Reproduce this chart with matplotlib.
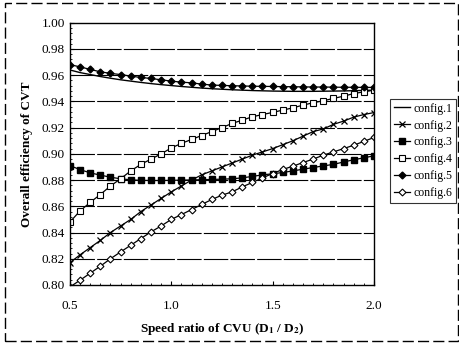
import matplotlib
matplotlib.use("Agg")
import matplotlib.pyplot as plt
from matplotlib.patches import Rectangle
from matplotlib.ticker import MultipleLocator

plt.rcParams["font.family"] = ["Liberation Serif", "DejaVu Serif"]
plt.rcParams["mathtext.fontset"] = "stix"

# speed ratio D1/D2, step 0.05
ratio = [0.5 + 0.05 * i for i in range(31)]

config1 = [0.964, 0.962, 0.9605, 0.959, 0.9577, 0.9565, 0.9555, 0.9545, 0.9536, 0.9528,
           0.9521, 0.9514, 0.9508, 0.9502, 0.9497, 0.9493, 0.9489, 0.9486, 0.9483, 0.9481,
           0.9479, 0.9478, 0.9477, 0.9477, 0.9477, 0.9478, 0.9479, 0.948, 0.9482, 0.9484,
           0.9486]
config2 = [0.817, 0.823, 0.8285, 0.834, 0.840, 0.845, 0.850, 0.856, 0.861, 0.866,
           0.871, 0.8755, 0.880, 0.884, 0.887, 0.890, 0.893, 0.896, 0.899, 0.9015,
           0.904, 0.907, 0.910, 0.9135, 0.917, 0.919, 0.9225, 0.925, 0.928, 0.930,
           0.9315]
config3 = [0.891, 0.888, 0.8855, 0.8838, 0.8822, 0.881, 0.8802, 0.8798, 0.8797, 0.8797,
           0.8798, 0.880, 0.8801, 0.8803, 0.8805, 0.8807, 0.881, 0.8817, 0.8828, 0.884,
           0.8848, 0.8858, 0.887, 0.8883, 0.8896, 0.8908, 0.892, 0.8938, 0.8955, 0.897,
           0.8985]
config4 = [0.848, 0.8565, 0.863, 0.869, 0.8755, 0.881, 0.887, 0.892, 0.896, 0.900,
           0.9045, 0.908, 0.911, 0.914, 0.917, 0.920, 0.9232, 0.9257, 0.9283, 0.930,
           0.9316, 0.9334, 0.9351, 0.9372, 0.939, 0.9405, 0.9423, 0.944, 0.946, 0.9473,
           0.9486]
config5 = [0.968, 0.9664, 0.9644, 0.9626, 0.9614, 0.9605, 0.9593, 0.9583, 0.9575, 0.9565,
           0.9555, 0.9547, 0.9542, 0.9532, 0.9525, 0.9522, 0.952, 0.9518, 0.9516, 0.9515,
           0.9514, 0.9513, 0.9512, 0.9511, 0.951, 0.951, 0.9509, 0.9508, 0.9508, 0.9507,
           0.9507]
config6 = [0.7985, 0.8036, 0.809, 0.8143, 0.820, 0.8252, 0.8303, 0.8354, 0.8405, 0.845,
           0.850, 0.8537, 0.8575, 0.8614, 0.8652, 0.8685, 0.871, 0.8748, 0.8782, 0.8817,
           0.885, 0.8881, 0.8906, 0.8934, 0.896, 0.899, 0.9015, 0.904, 0.9066, 0.9095,
           0.9125]

fig = plt.figure(figsize=(4.6, 3.45), dpi=100)
ax = fig.add_axes([0.152, 0.174, 0.661, 0.76])

# horizontal grid
for g in [0.82, 0.84, 0.86, 0.88, 0.90, 0.92, 0.94, 0.96, 0.98]:
    ax.axhline(g, color="black", lw=0.8, dashes=(22, 2), zorder=1)

ax.plot(ratio, config1, color="black", lw=1.0, label="config.1")
ax.plot(ratio, config2, color="black", lw=0.9, marker="x", ms=5, mew=0.9, label="config.2")
ax.plot(ratio, config3, color="black", lw=0.9, marker="s", ms=5, label="config.3")
ax.plot(ratio, config4, color="black", lw=0.9, marker="s", ms=5, mfc="white", mew=0.8, label="config.4")
ax.plot(ratio, config5, color="black", lw=0.9, marker="D", ms=3.5, label="config.5")
ax.plot(ratio, config6, color="black", lw=0.9, marker="D", ms=3.5, mfc="white", mew=0.8, label="config.6")

ax.set_xlim(0.5, 2.0)
ax.set_ylim(0.80, 1.00)
ax.set_xticks([0.5, 1.0, 1.5, 2.0])
ax.set_xticklabels(["0.5", "1.0", "1.5", "2.0"])
ax.set_yticks([0.80 + 0.02 * i for i in range(11)])
ax.set_yticklabels(["%.2f" % (0.80 + 0.02 * i) for i in range(11)])
ax.yaxis.set_minor_locator(MultipleLocator(0.004))
ax.xaxis.set_minor_locator(MultipleLocator(0.05))
ax.tick_params(axis="both", which="major", direction="in", length=3, labelsize=9.5)
ax.tick_params(axis="x", which="major", pad=11)
ax.tick_params(axis="both", which="minor", direction="in", length=1.5)
for s in ax.spines.values():
    s.set_linewidth(1.0)

ax.set_xlabel(r"Speed ratio of CVU (D$_\mathbf{1}$ / D$_\mathbf{2}$)", fontsize=9.5,
              fontweight="bold", labelpad=6)
ax.set_ylabel("Overall efficiency of CVT", fontsize=9.5, fontweight="bold", labelpad=6)

leg = fig.legend(loc="upper left", bbox_to_anchor=(0.848, 0.713), fontsize=8.5,
                 frameon=True, fancybox=False, edgecolor="black", handlelength=1.4,
                 handletextpad=0.3, borderpad=0.3, labelspacing=0.42, borderaxespad=0)
leg.get_frame().set_linewidth(0.8)

# dashed outer border
fig.patches.append(Rectangle((0.011, 0.012), 0.985, 0.978, transform=fig.transFigure,
                             fill=False, lw=1.0, ls=(0, (8, 3)), color="black"))

fig.savefig("out.png", dpi=100)
